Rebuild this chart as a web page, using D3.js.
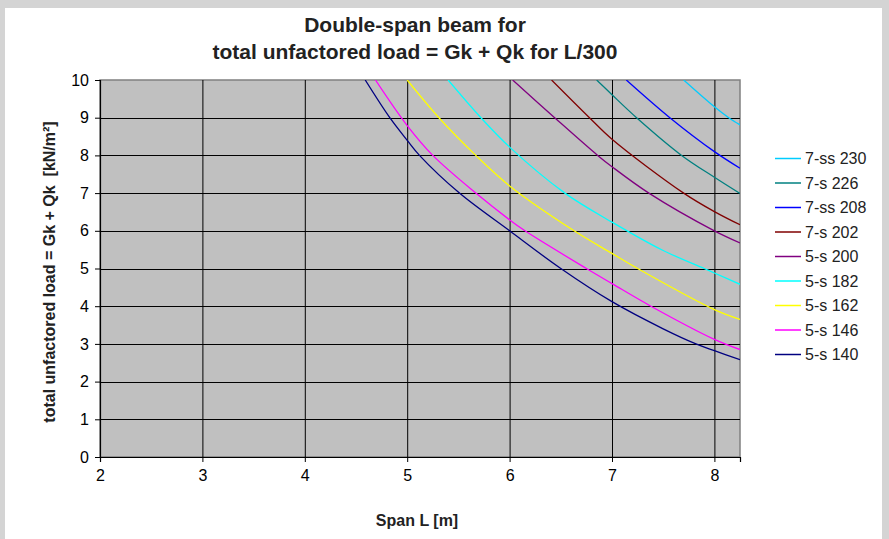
<!DOCTYPE html>
<html><head><meta charset="utf-8">
<script src="https://cdn.jsdelivr.net/npm/d3@7"></script>
<style>
html,body{margin:0;padding:0;background:#d4d4d4;}
svg{display:block;font-family:"Liberation Sans",Arial,sans-serif;}
</style></head>
<body>
<svg id="chart" width="889" height="539"></svg>
<script>
// ---- data ----
const seriesNames = ["7-ss 230","7-s 226","7-ss 208","7-s 202","5-s 200","5-s 182","5-s 162","5-s 146","5-s 140"];
const seriesColors = ["#00CCFF","#008080","#0000FF","#800000","#800080","#00FFFF","#FFFF00","#FF00FF","#000080"];
const s230 = [[7.70,10],[8.0,9.29],[8.14,9],[8.25,8.81]];
const s226 = [[6.85,10],[7.0,9.61],[7.24,9],[7.68,8],[8.0,7.42],[8.25,6.99]];
const s208 = [[7.14,10],[7.565,9],[8.0,8.1],[8.25,7.66]];
const s202 = [[6.41,10],[6.78,9],[7.0,8.43],[7.70,7],[8.0,6.51],[8.25,6.16]];
const s200 = [[6.03,10],[6.44,9],[6.86,8],[7.0,7.70],[7.36,7],[8.0,6.0],[8.25,5.68]];
const s182 = [[5.40,10],[5.72,9],[6.0,8.22],[6.54,7],[7.0,6.23],[7.49,5.49],[7.90,5],[8.0,4.88],[8.25,4.58]];
const s162 = [[5.0,10],[5.31,9],[5.67,8],[6.0,7.19],[6.63,6],[7.0,5.40],[7.25,5.0],[8.0,3.91],[8.25,3.65]];
const s146 = [[4.69,10],[5.0,8.79],[5.25,8],[5.67,7],[6.0,6.29],[6.15,6],[6.75,5.0],[7.0,4.60],[7.38,4],[8.0,3.12],[8.25,2.85]];
const s140 = [[4.59,10],[4.83,9],[5.0,8.40],[5.12,8],[5.51,7],[6.0,6.0],[6.5,5.0],[7.0,4.12],[7.5,3.4],[7.82,3],[8.0,2.82],[8.25,2.58]];
const seriesData = [s230,s226,s208,s202,s200,s182,s162,s146,s140];
const xTicks = [2,3,4,5,6,7,8];
const yTicks = [0,1,2,3,4,5,6,7,8,9,10];
const titleLines = ["Double-span beam for","total unfactored load = Gk + Qk for L/300"];
const xTitle = "Span L [m]";
const yTitle = "total unfactored load = Gk + Qk  [kN/m²]";

// ---- layout ----
const svg = d3.select("#chart");
svg.append("rect").attr("x",5).attr("y",8).attr("width",877).attr("height",531).attr("fill","#ffffff");

const pL=100, pR=740, pT=80, pB=457;
const x = d3.scaleLinear().domain([2,8.25]).range([pL,pR]);
const y = d3.scaleLinear().domain([0,10]).range([pB,pT]);

svg.append("rect").attr("x",pL).attr("y",pT).attr("width",pR-pL).attr("height",pB-pT)
  .attr("fill","#c0c0c0").attr("stroke","#808080").attr("stroke-width",1.5);

// grid
svg.append("g").selectAll("line").data(xTicks.filter(d=>d>2)).join("line")
  .attr("x1",d=>x(d)+0.5).attr("x2",d=>x(d)+0.5).attr("y1",pT).attr("y2",pB)
  .attr("stroke","#000").attr("stroke-width",1);
svg.append("g").selectAll("line").data(yTicks.filter(d=>d>0&&d<10)).join("line")
  .attr("x1",pL).attr("x2",pR).attr("y1",d=>Math.round(y(d))+0.5).attr("y2",d=>Math.round(y(d))+0.5)
  .attr("stroke","#000").attr("stroke-width",1);

// clip
svg.append("clipPath").attr("id","clip").append("rect")
  .attr("x",pL).attr("y",pT).attr("width",pR-pL).attr("height",pB-pT);

const line = d3.line().x(d=>x(d[0])).y(d=>y(d[1])).curve(d3.curveCatmullRom.alpha(0.5));
const gl = svg.append("g").attr("clip-path","url(#clip)");
seriesData.forEach((s,i)=>{
  gl.append("path").datum(s).attr("d",line).attr("fill","none")
    .attr("stroke",seriesColors[i]).attr("stroke-width",1.3);
});

// axes
const xAxis = d3.axisBottom(x).tickValues(xTicks).tickSize(5).tickPadding(8).tickFormat(d3.format("d"));
const gx = svg.append("g").attr("transform",`translate(0,${pB})`).call(xAxis);
const yAxis = d3.axisLeft(y).tickValues(yTicks).tickSize(5).tickPadding(6).tickFormat(d3.format("d"));
const gy = svg.append("g").attr("transform",`translate(${pL},0)`).call(yAxis);
[gx,gy].forEach(g=>{
  g.select(".domain").attr("stroke","#000").attr("stroke-width",1.2);
  g.selectAll(".tick line").attr("stroke","#000");
  g.selectAll("text").attr("font-size",16).attr("fill","#000").attr("font-family","Liberation Sans, Arial, sans-serif");
});

// titles
svg.append("g").selectAll("text").data(titleLines).join("text")
  .attr("x",415).attr("y",(d,i)=>32+i*27).attr("text-anchor","middle")
  .attr("font-size",21).attr("font-weight","bold").attr("fill","#222").text(d=>d);
svg.append("text").attr("x",417).attr("y",526).attr("text-anchor","middle")
  .attr("font-size",16).attr("font-weight","bold").attr("fill","#222").text(xTitle);
svg.append("text").attr("transform","translate(55,272) rotate(-90)").attr("text-anchor","middle")
  .attr("font-size",16).attr("font-weight","bold").attr("fill","#222")
  .style("white-space","pre").text(yTitle);

// legend
const lg = svg.append("g").selectAll("g").data(seriesNames).join("g")
  .attr("transform",(d,i)=>`translate(775,${158.5+i*24.5})`);
lg.append("line").attr("x1",0).attr("x2",26).attr("stroke",(d,i)=>seriesColors[i]).attr("stroke-width",1.5);
lg.append("text").attr("x",30).attr("dy","0.36em").attr("font-size",16).attr("fill","#222").text(d=>d);
</script>
</body></html>
